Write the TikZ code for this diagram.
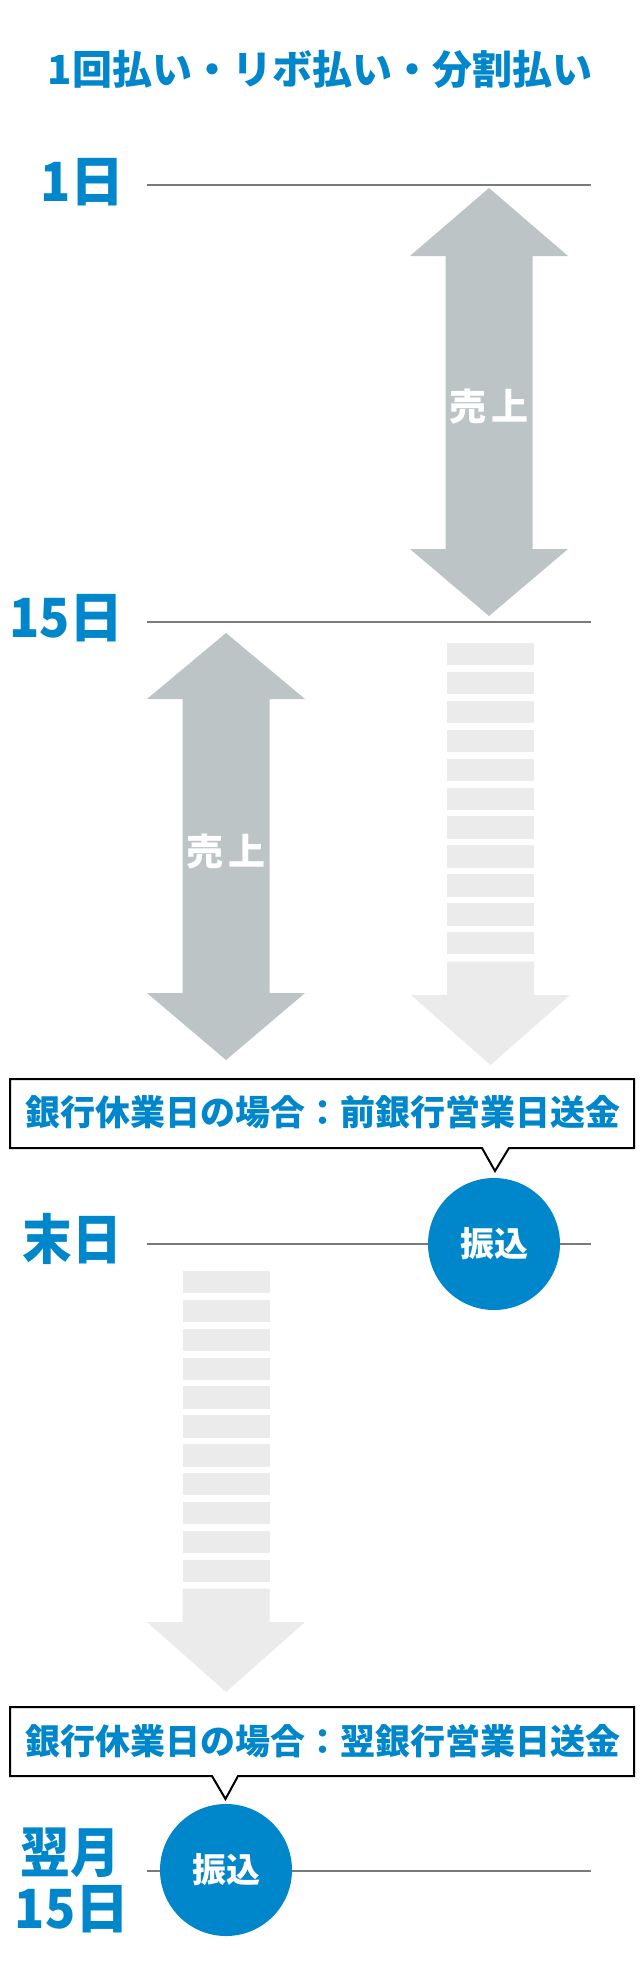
\documentclass[tikz,border=0pt]{standalone}
\usepackage{fontspec}
\usepackage{graphicx}
\setmainfont{Noto Sans CJK JP}
\definecolor{myblue}{HTML}{0086CA}
\definecolor{linegray}{HTML}{7A7A7A}
\definecolor{arrowgray}{HTML}{BDC4C6}
\definecolor{stripegray}{HTML}{EBEBEB}
\newcommand{\narrowdig}[1]{\scalebox{0.92}[1]{#1}}
\tikzset{
  dayline/.style={draw=linegray, line width=1.6pt},
  daylabel/.style={text=myblue, font=\bfseries\fontsize{54}{58}\selectfont, inner sep=0pt},
  grayarrow/.style={fill=arrowgray, draw=none},
  stripebar/.style={fill=stripegray, draw=none},
  callout/.style={draw=black, line width=2pt, fill=white},
  callouttext/.style={text=myblue, font=\bfseries\fontsize{35}{40}\selectfont, inner sep=0pt},
  payment/.style={circle, fill=myblue, minimum size=132pt, inner sep=0pt, text=white, font=\bfseries\fontsize{34}{40}\selectfont},
  salestext/.style={text=white, font=\bfseries\fontsize{37}{40}\selectfont, inner sep=0pt},
}
\begin{document}
\begin{tikzpicture}[x=1pt,y=-1pt]
\useasboundingbox[fill=white] (0,0) rectangle (640,1972);

% title
\node[text=myblue, font=\bfseries\fontsize{40}{46}\selectfont, inner sep=0pt] (title) at (320,69.5) {1回払い・リボ払い・分割払い};

% day lines
\coordinate (l1a) at (147,184.8); \coordinate (l1b) at (591,184.8);
\coordinate (l2a) at (147,622);   \coordinate (l2b) at (591,622);
\coordinate (l3a) at (147,1244);  \coordinate (l3b) at (591,1244);
\coordinate (l4a) at (147,1871);  \coordinate (l4b) at (591,1871);
\draw[dayline] (l1a) -- (l1b);
\draw[dayline] (l2a) -- (l2b);
\draw[dayline] (l3a) -- (l3b);
\draw[dayline] (l4a) -- (l4b);

% day labels
\node[daylabel, anchor=east] (d1) at (125,182) {\narrowdig{1}日};
\node[daylabel, anchor=east] (d15) at (124,618) {\narrowdig{15}日};
\node[daylabel, anchor=east] (dend) at (122,1239) {\scalebox{0.92}[1]{末日}};
\node[daylabel] (dnextm) at (70,1853) {\scalebox{0.92}[1]{翌月}};
\node[daylabel] (dnext15) at (72,1909.5) {\narrowdig{15}日};

% sales arrow 1 (right)
\fill[grayarrow] (489,188) -- (568,256) -- (532.5,256) -- (532.5,549) -- (568,549) -- (489,616)
  -- (410,549) -- (445.5,549) -- (445.5,256) -- (410,256) -- cycle;
\node[salestext] (s1) at (489,407) {売\kern5pt上};

% sales arrow 2 (left)
\fill[grayarrow] (226,633) -- (305,699) -- (269.5,699) -- (269.5,993) -- (305,993) -- (226,1060)
  -- (147,993) -- (182.5,993) -- (182.5,699) -- (147,699) -- cycle;
\node[salestext] (s2) at (226,852) {売\kern5pt上};

% striped arrow right
\foreach \k in {0,...,10} {
  \fill[stripebar] (447,643+28.9*\k) rectangle ++(87,22.4);
}
\fill[stripebar] (447,961.7) -- (534,961.7) -- (534,995) -- (570,995) -- (490.5,1065) -- (411,995) -- (447,995) -- cycle;

% striped arrow left
\foreach \k in {0,...,10} {
  \fill[stripebar] (182.5,1271+28.85*\k) rectangle ++(87,22.4);
}
\fill[stripebar] (182.5,1588.5) -- (269.5,1588.5) -- (269.5,1622) -- (305,1622) -- (226,1692) -- (147,1622) -- (182.5,1622) -- cycle;

% callout 1
\draw[callout] (10,1079) -- (634,1079) -- (634,1148) -- (509,1148) -- (495,1171) -- (482,1148) -- (10,1148) -- cycle;
\node[callouttext] (c1) at (322.5,1112) {銀行休業日の場合：前銀行営業日送金};

% callout 2
\draw[callout] (10,1707) -- (634,1707) -- (634,1776) -- (238,1776) -- (225.5,1799) -- (212,1776) -- (10,1776) -- cycle;
\node[callouttext] (c2) at (322.5,1741) {銀行休業日の場合：翌銀行営業日送金};

% payment circles
\node[payment] (p1) at (494,1244) {振込};
\node[payment] (p2) at (226,1870) {振込};
\end{tikzpicture}
\end{document}
